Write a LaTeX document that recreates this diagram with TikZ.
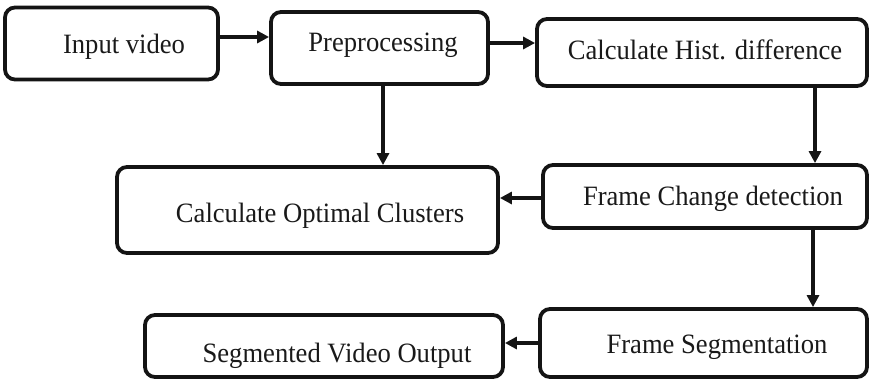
\documentclass[tikz,border=0pt]{standalone}
\usepackage{fontspec}
\setmainfont{Liberation Serif}
\usetikzlibrary{arrows.meta}
\begin{document}
\begin{tikzpicture}[x=1pt,y=-1pt,
  box/.style={draw=black!92, line width=3.8pt, rounded corners=10pt, inner sep=0pt},
  txt/.style={anchor=base, inner sep=0pt, xscale=0.95, font=\fontsize{28pt}{32pt}\selectfont, text=black!90},
  arr/.style={draw=black!92, line width=3.8pt, -{Triangle[length=12pt,width=12pt]}}]
\useasboundingbox (0,0) rectangle (870,380);
% boxes
\node[box, minimum width=213pt, minimum height=72pt] (in) at (111.5,43.5) {};
\node[box, minimum width=217pt, minimum height=72pt] (pre) at (379.5,48) {};
\node[box, minimum width=330pt, minimum height=67pt] (hist) at (702,52.5) {};
\node[box, minimum width=381pt, minimum height=86pt] (coc) at (307.5,210) {};
\node[box, minimum width=324pt, minimum height=63pt] (fcd) at (705,196.5) {};
\node[box, minimum width=327pt, minimum height=68pt] (fs) at (703.5,343) {};
\node[box, minimum width=358pt, minimum height=62pt] (svo) at (324,346) {};
% texts
\node[txt] (tin) at ([shift={(12.5,9.5)}]in.center) {Input video};
\node[txt] (tpre) at ([shift={(3.5,3)}]pre.center) {Preprocessing};
\node[txt] (thist) at ([shift={(3,6.5)}]hist.center) {Calculate Hist. difference};
\node[txt] (tcoc) at ([shift={(12.5,12)}]coc.center) {Calculate Optimal Clusters};
\node[txt] (tfcd) at ([shift={(8,8.5)}]fcd.center) {Frame Change detection};
\node[txt] (tfs) at ([shift={(13.5,10)}]fs.center) {Frame Segmentation};
\node[txt] (tsvo) at ([shift={(13,16)}]svo.center) {Segmented Video Output};
% connectors
\draw[arr] ([yshift=6.5pt]in.east) -- ([yshift=6.5pt]in.east -| pre.west);
\draw[arr] ([yshift=5pt]pre.east) -- ([yshift=5pt]pre.east -| hist.west);
\draw[arr] ([xshift=3.5pt]pre.south) -- ([xshift=3.5pt]pre.south |- coc.north);
\draw[arr] ([xshift=113pt]hist.south) -- ([xshift=113pt]hist.south |- fcd.north);
\draw[arr] ([yshift=-1.5pt]fcd.west) -- ([yshift=-1.5pt]fcd.west -| coc.east);
\draw[arr] ([xshift=108pt]fcd.south) -- ([xshift=108pt]fcd.south |- fs.north);
\draw[arr] (fs.west) -- (fs.west -| svo.east);
\end{tikzpicture}
\end{document}
